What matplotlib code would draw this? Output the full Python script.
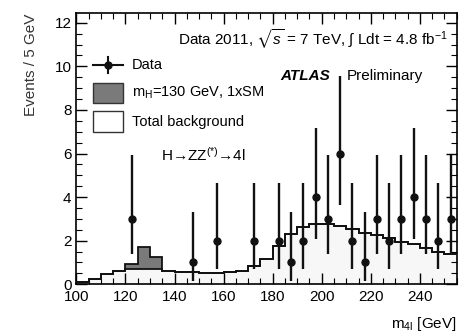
import numpy as np
import matplotlib
matplotlib.use("Agg")
import matplotlib.pyplot as plt
from matplotlib.patches import Rectangle
from matplotlib.ticker import MultipleLocator

plt.rcParams["font.family"] = ["Liberation Sans", "DejaVu Sans"]
plt.rcParams["mathtext.fontset"] = "custom"
plt.rcParams["mathtext.rm"] = "Liberation Sans"
plt.rcParams["mathtext.it"] = "Liberation Sans:italic"
plt.rcParams["mathtext.fallback"] = "stix"

# 5 GeV bins, 100-255 GeV
edges = np.arange(100, 256, 5)
background = [0.12, 0.23, 0.45, 0.62, 0.70, 0.72, 0.70, 0.62, 0.58, 0.54,
              0.50, 0.50, 0.55, 0.63, 0.86, 1.17, 1.74, 2.32, 2.61, 2.75,
              2.78, 2.68, 2.52, 2.37, 2.26, 2.11, 1.95, 1.83, 1.65, 1.50, 1.37]
signal = [0, 0, 0, 0, 0.22, 1.00, 0.57, 0, 0, 0,
          0, 0, 0, 0, 0, 0, 0, 0, 0, 0,
          0, 0, 0, 0, 0, 0, 0, 0, 0, 0, 0]

data_x = [122.5, 147.5, 157.5, 172.5, 182.5, 187.5, 192.5, 197.5, 202.5, 207.5,
          212.5, 217.5, 222.5, 227.5, 232.5, 237.5, 242.5, 247.5, 252.5]
data_y = [3, 1, 2, 2, 2, 1, 2, 4, 3, 6, 2, 1, 3, 2, 3, 4, 3, 2, 3]
# asymmetric errors
err_lo = [1.63, 0.83, 1.29, 1.29, 1.29, 0.83, 1.29, 1.91, 1.63, 2.38,
          1.29, 0.83, 1.63, 1.29, 1.63, 1.91, 1.63, 1.29, 1.63]
err_hi = [2.92, 2.30, 2.64, 2.64, 2.64, 2.30, 2.64, 3.16, 2.92, 3.58,
          2.64, 2.30, 2.92, 2.64, 2.92, 3.16, 2.92, 2.64, 2.92]

bg = np.array(background)
tot = bg + np.array(signal)

fig = plt.figure(figsize=(4.66, 3.36), dpi=100)
ax = fig.add_axes([0.164, 0.154, 0.816, 0.806])

ax.stairs(bg, edges, fill=True, color="#f7f7f7", zorder=1)
ax.stairs(tot, edges, baseline=bg, fill=True, color="#7a7a7a", zorder=2)
ax.stairs(bg, edges, color="#111111", lw=1.3, baseline=None, zorder=3)
ax.stairs(tot, edges, color="#111111", lw=1.3, baseline=None, zorder=3)

ax.errorbar(data_x, data_y, yerr=[err_lo, err_hi], fmt="o", color="#111111",
            ms=5, elinewidth=1.7, capsize=0, zorder=5)

ax.set_xlim(100, 255)
ax.set_ylim(0, 12.43)
ax.xaxis.set_major_locator(MultipleLocator(20))
ax.xaxis.set_minor_locator(MultipleLocator(5))
ax.yaxis.set_major_locator(MultipleLocator(2))
ax.yaxis.set_minor_locator(MultipleLocator(0.5))
ax.tick_params(which="both", direction="in", top=True, right=True, labelsize=11)
ax.tick_params(which="major", length=8, width=1)
ax.tick_params(which="minor", length=4, width=0.8)
ax.tick_params(axis="x", pad=4)
for s in ax.spines.values():
    s.set_linewidth(1.2)

ax.set_ylabel("Events / 5 GeV", fontsize=11, loc="top", labelpad=12, color="#333333")
ax.set_xlabel("m$_{\\rm 4l}$ [GeV]", fontsize=11, loc="right", labelpad=8)

# text
ax.text(0.977, 0.905, "Data 2011, $\\sqrt{s}$ = 7 TeV, $\\int$ Ldt = 4.8 fb$^{-1}$",
        transform=ax.transAxes, ha="right", va="center", fontsize=11)
ax.text(0.535, 0.768, "ATLAS", transform=ax.transAxes, ha="left", va="center",
        fontsize=11, fontweight="bold", fontstyle="italic")
ax.text(0.711, 0.768, "Preliminary", transform=ax.transAxes, ha="left", va="center",
        fontsize=11)
ax.text(0.222, 0.477, "H\u2192ZZ$^{(*)}$\u21924l", transform=ax.transAxes,
        ha="left", va="center", fontsize=11)

# legend drawn by hand
ax.plot([0.044, 0.122], [0.809, 0.809], transform=ax.transAxes, color="#111111", lw=1.5)
ax.plot([0.083, 0.083], [0.779, 0.839], transform=ax.transAxes, color="#111111", lw=1.5)
ax.plot([0.083], [0.809], "o", transform=ax.transAxes, color="#111111", ms=5)
ax.text(0.146, 0.809, "Data", transform=ax.transAxes, va="center", fontsize=10.5)
ax.add_patch(Rectangle((0.044, 0.669), 0.078, 0.074, transform=ax.transAxes,
                       facecolor="#7a7a7a", edgecolor="#333333", lw=1))
ax.text(0.146, 0.706, "m$_{\\rm H}$=130 GeV, 1xSM", transform=ax.transAxes,
        va="center", fontsize=10.5)
ax.add_patch(Rectangle((0.044, 0.562), 0.078, 0.079, transform=ax.transAxes,
                       facecolor="white", edgecolor="#333333", lw=1))
ax.text(0.146, 0.600, "Total background", transform=ax.transAxes,
        va="center", fontsize=10.5)

fig.savefig("out.png", dpi=100)
